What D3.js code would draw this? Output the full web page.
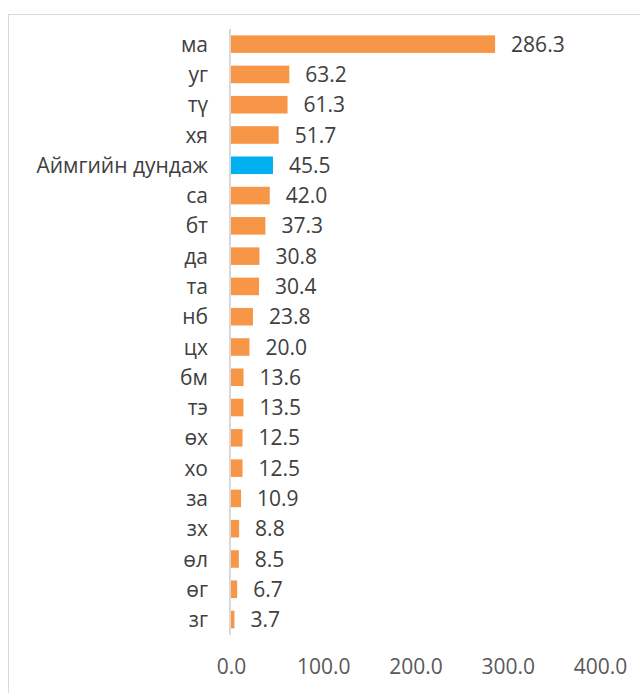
<!DOCTYPE html>
<html><head><meta charset="utf-8">
<script src="https://cdn.jsdelivr.net/npm/d3@7"></script>
<style>body{margin:0;background:#fff;} svg{display:block;}</style>
</head><body>
<svg id="c" width="640" height="693"></svg>
<script>
const categories = ["ма","уг","тү","хя","Аймгийн дундаж","са","бт","да","та","нб","цх","бм","тэ","өх","хо","за","зх","өл","өг","зг"];
const values = [286.3,63.2,61.3,51.7,45.5,42.0,37.3,30.8,30.4,23.8,20.0,13.6,13.5,12.5,12.5,10.9,8.8,8.5,6.7,3.7];
const highlight = "Аймгийн дундаж";
const ticks = [0,100,200,300,400];

const svg = d3.select("#c");
svg.append("rect").attr("x",8.5).attr("y",14.5).attr("width",700).attr("height",700)
  .attr("fill","none").attr("stroke","#d9d9d9");

const x = d3.scaleLinear().domain([0,400]).range([231,600]);
const y = d3.scaleBand().domain(categories).range([29,634.7]).paddingInner(0.42).paddingOuter(0.21);

const font = "'Open Sans', sans-serif";
const data = categories.map((c,i)=>({c, v:values[i]}));

svg.selectAll("rect.bar").data(data).join("rect").attr("class","bar")
  .attr("x",x(0)).attr("y",d=>y(d.c)).attr("width",d=>x(d.v)-x(0)).attr("height",y.bandwidth())
  .attr("fill",d=>d.c===highlight?"#00B0F0":"#F79646");

svg.append("line").attr("x1",x(0)-1).attr("x2",x(0)-1).attr("y1",29).attr("y2",634.7)
  .attr("stroke","#d9d9d9").attr("stroke-width",2);

svg.selectAll("text.cat").data(data).join("text").attr("class","cat")
  .attr("x",x(0)-23).attr("y",d=>y(d.c)+y.bandwidth()/2).attr("dy","0.36em")
  .attr("text-anchor","end").attr("font-family",font).attr("font-size",21).attr("fill","#404040")
  .text(d=>d.c);

svg.selectAll("text.val").data(data).join("text").attr("class","val")
  .attr("x",d=>x(d.v)+16).attr("y",d=>y(d.c)+y.bandwidth()/2).attr("dy","0.36em")
  .attr("font-family",font).attr("font-size",21).attr("fill","#404040")
  .text(d=>d.v.toFixed(1));

const ax = d3.axisBottom(x).tickValues(ticks).tickFormat(d=>d.toFixed(1)).tickSize(0).tickPadding(0);
const g = svg.append("g").attr("transform","translate(0,666)").call(ax);
g.select(".domain").remove();
g.selectAll("text").attr("font-family",font).attr("font-size",21).attr("fill","#595959").attr("y",0).attr("dy","0.36em");
</script>
</body></html>
